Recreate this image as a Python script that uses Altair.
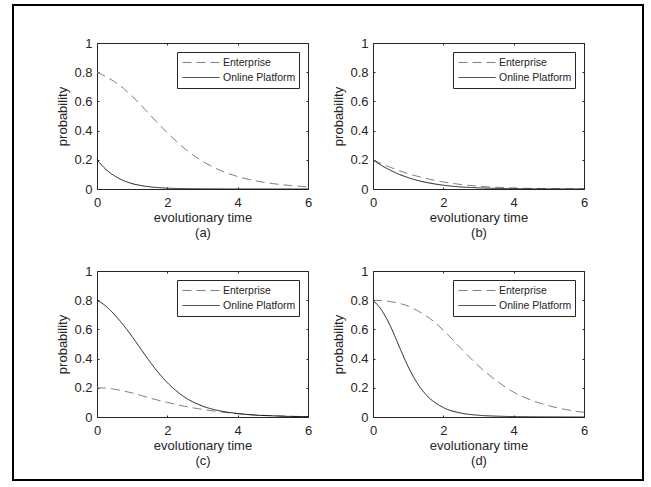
import altair as alt
import pandas as pd

# evolutionary time sample points
t = [0, 0.25, 0.5, 0.75, 1, 1.25, 1.5, 2, 2.5, 3, 3.5, 4, 4.5, 5, 5.5, 6]

# (a)
a_enterprise = [0.80, 0.77, 0.735, 0.69, 0.635, 0.575, 0.51, 0.385, 0.275, 0.19, 0.128, 0.085, 0.056, 0.037, 0.024, 0.015]
a_online = [0.20, 0.135, 0.09, 0.058, 0.037, 0.024, 0.015, 0.006, 0.0025, 0.001, 0.0004, 0.0002, 0.0001, 0.0, 0.0, 0.0]
# (b)
b_enterprise = [0.20, 0.172, 0.148, 0.125, 0.105, 0.088, 0.073, 0.048, 0.031, 0.019, 0.012, 0.007, 0.004, 0.0025, 0.0015, 0.001]
b_online = [0.20, 0.16, 0.128, 0.10, 0.078, 0.06, 0.046, 0.026, 0.014, 0.008, 0.004, 0.002, 0.001, 0.0006, 0.0003, 0.0002]
# (c)
c_enterprise = [0.20, 0.198, 0.19, 0.178, 0.165, 0.148, 0.13, 0.10, 0.073, 0.052, 0.035, 0.023, 0.014, 0.009, 0.005, 0.003]
c_online = [0.80, 0.76, 0.70, 0.63, 0.55, 0.465, 0.38, 0.235, 0.135, 0.075, 0.042, 0.024, 0.013, 0.008, 0.004, 0.0025]
# (d)
d_enterprise = [0.80, 0.797, 0.79, 0.778, 0.76, 0.73, 0.695, 0.595, 0.47, 0.35, 0.25, 0.17, 0.115, 0.077, 0.05, 0.032]
d_online = [0.80, 0.73, 0.62, 0.48, 0.345, 0.235, 0.155, 0.065, 0.027, 0.012, 0.006, 0.003, 0.0015, 0.0008, 0.0004, 0.0002]

series = ["Enterprise", "Online Platform"]
panel_labels = ["(a)", "(b)", "(c)", "(d)"]
x_ticks = [0, 2, 4, 6]
y_ticks = [0, 0.2, 0.4, 0.6, 0.8, 1]

INK = "#262626"
FONT = "Liberation Sans"
W, H = 211, 146
TICK = 2


def panel(ent, onl, label, border=False):
    df = pd.DataFrame({
        "t": t + t,
        "p": ent + onl,
        "s": [series[0]] * len(t) + [series[1]] * len(t),
    })
    xs = alt.Scale(domain=[0, 6], nice=False)
    ys = alt.Scale(domain=[0, 1], nice=False)
    leg = alt.Legend(
        title=None, orient="top-right", offset=9,
        fillColor="white", strokeColor=INK, padding=3, cornerRadius=0,
        symbolType="stroke", symbolSize=1369, symbolStrokeWidth=1,
        symbolOffset=2, clipHeight=15, rowPadding=0, labelOffset=3,
        labelFont=FONT, labelFontSize=10.5, labelColor=INK,
    )
    lines = alt.Chart(df).mark_line(strokeWidth=1, interpolate="monotone").encode(
        x=alt.X("t:Q", scale=xs, axis=alt.Axis(
            orient="bottom", values=x_ticks, format="~g", offset=-TICK, tickSize=TICK,
            domain=False, grid=False, labelPadding=7, labelFlush=False, labelOverlap=False,
            labelFont=FONT, labelFontSize=13, labelColor=INK,
            titleFont=FONT, titleFontSize=13, titleFontWeight="normal", titleColor=INK,
            tickColor=INK, tickWidth=1,
            title=["evolutionary time", label], titlePadding=2, titleLineHeight=15)),
        y=alt.Y("p:Q", scale=ys, axis=alt.Axis(
            orient="left", values=y_ticks, format="~g", offset=-TICK, tickSize=TICK,
            domain=False, grid=False, labelPadding=5, labelFlush=False, labelOverlap=False,
            labelFont=FONT, labelFontSize=13, labelColor=INK,
            titleFont=FONT, titleFontSize=13, titleFontWeight="normal", titleColor=INK,
            tickColor=INK, tickWidth=1,
            title="probability", titlePadding=4)),
        color=alt.Color("s:N", scale=alt.Scale(domain=series, range=["#808080", "#1a1a1a"]), legend=leg),
        strokeDash=alt.StrokeDash("s:N", scale=alt.Scale(domain=series, range=[[9, 5], [1, 0]]), legend=leg),
    )
    mirror = alt.Chart(df).mark_line(opacity=0).encode(
        x=alt.X("t:Q", scale=xs, axis=alt.Axis(
            orient="top", values=x_ticks, labels=False, title=None, offset=-TICK,
            tickSize=TICK, domain=False, grid=False, tickColor=INK, tickWidth=1)),
        y=alt.Y("p:Q", scale=ys, axis=alt.Axis(
            orient="right", values=y_ticks, labels=False, title=None, offset=-TICK,
            tickSize=TICK, domain=False, grid=False, tickColor=INK, tickWidth=1)),
        detail="s:N",
    )
    layers = [lines, mirror]
    if border:
        frame = alt.Chart(pd.DataFrame({"k": [0]})).mark_rect(
            fillOpacity=0, stroke="black", strokeWidth=2
        ).encode(
            x=alt.value(-84), x2=alt.value(546), y=alt.value(-38), y2=alt.value(437)
        )
        layers.append(frame)
    return alt.layer(*layers).resolve_axis(x="independent", y="independent").properties(width=W, height=H)


pa = panel(a_enterprise, a_online, panel_labels[0], border=True)
pb = panel(b_enterprise, b_online, panel_labels[1])
pc = panel(c_enterprise, c_online, panel_labels[2])
pd_ = panel(d_enterprise, d_online, panel_labels[3])

chart = alt.concat(
    pa, pb, pc, pd_, columns=2, spacing={"row": 82, "column": 65}, bounds="flush"
).resolve_scale(
    color="independent", strokeDash="independent"
).resolve_legend(
    color="independent", strokeDash="independent"
).properties(
    padding={"left": 11, "top": 3, "right": 4, "bottom": 4},
    background="white",
).configure_view(
    stroke=INK, strokeWidth=1
)

chart.save("out.html", embed_options={"renderer": "svg", "actions": False})
